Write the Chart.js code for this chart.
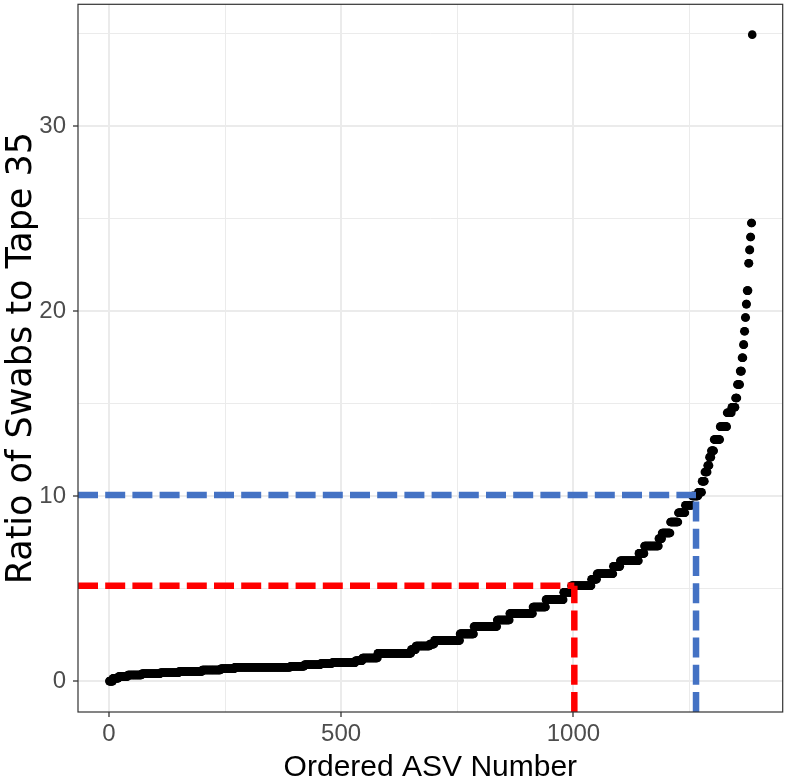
<!DOCTYPE html>
<html><head><meta charset="utf-8">
<script src="https://cdn.jsdelivr.net/npm/chart.js@4"></script>
<style>html,body{margin:0;padding:0;background:#fff}#wrap{width:787px;height:780px;position:relative}</style>
</head><body><div id="wrap"><canvas id="c" width="787" height="780"></canvas></div>
<script>
// Plateau levels of the ordered ratio curve and how many ASVs sit on each
const ratioLevels = [0, 0.15, 0.25, 0.33, 0.4, 0.45, 0.52, 0.6, 0.67, 0.75, 0.8, 0.88, 0.95, 1.0, 1.1, 1.25, 1.5, 1.7, 1.9, 2.0, 2.2, 2.55, 2.95, 3.3, 3.65, 4.0, 4.4, 4.8, 5.15, 5.5, 5.8, 6.2, 6.5, 6.9, 7.3, 7.7, 8.0, 8.6, 9.1, 9.5, 10.0, 10.2, 10.8, 11.3, 11.65, 12.1, 12.45, 13.05, 13.75, 14.5, 14.8, 15.3, 16.03, 16.75, 17.47, 18.18, 18.9, 19.65, 20.37, 21.1, 22.58, 23.3, 24.0, 24.75, 34.93];
const runCounts   = [8, 12, 20, 30, 40, 40, 50, 40, 30, 120, 30, 35, 25, 50, 15, 33, 72, 10, 30, 10, 55, 30, 50, 27, 50, 28, 38, 17, 43, 12, 35, 15, 40, 12, 31, 7, 18, 17, 15, 15, 13, 8, 6, 6, 4, 4, 6, 13, 15, 10, 8, 4, 6, 4, 3, 2, 2, 2, 2, 3, 2, 2, 2, 2, 1];

// Cut-off reference segments
const redCutX = 1002, redCutY = 5.15;
const blueCutX = 1264, blueCutY = 10.05;

// Axis ticks
const xTickValues = [0, 250, 500, 750, 1000, 1250];
const xMajorTicks = [0, 500, 1000];
const yTickValues = [0, 5, 10, 15, 20, 25, 30, 35];
const yMajorTicks = [0, 10, 20, 30];
const xRange = [-66.5, 1450.6];
const yRange = [-1.67, 36.57];

const points = [];
let idx = 1;
ratioLevels.forEach((v, k) => {
  for (let j = 0; j < runCounts[k]; j++) { points.push({x: idx, y: v}); idx++; }
});

const segStyle = (color) => ({
  showLine: true, borderColor: color, backgroundColor: color, borderWidth: 6.5,
  borderDash: [20, 7.2], borderCapStyle: 'butt', pointRadius: 0, pointHoverRadius: 0,
  fill: false, tension: 0, order: 0
});

const panelBorder = {
  id: 'panelBorder',
  afterDraw(chart) {
    const {ctx, chartArea: a} = chart;
    ctx.save();
    ctx.strokeStyle = '#333333';
    ctx.lineWidth = 1.2;
    ctx.strokeRect(a.left, a.top, a.right - a.left, a.bottom - a.top);
    ctx.restore();
  }
};

const gridOpts = (majors) => ({
  color: '#EBEBEB',
  lineWidth: (c) => majors.includes(c.tick && c.tick.value) ? 2 : 1,
  tickColor: (c) => majors.includes(c.tick && c.tick.value) ? '#333333' : 'rgba(0,0,0,0)',
  tickWidth: 1.3,
  tickLength: 5,
  drawTicks: true
});

const zeroPad = (s) => { s.paddingLeft = 0; s.paddingRight = 0; s.paddingTop = 0; s.paddingBottom = 0; };

new Chart(document.getElementById('c'), {
  type: 'scatter',
  data: {
    datasets: [
      Object.assign({data: [{x: xRange[0], y: redCutY}, {x: redCutX, y: redCutY}]}, segStyle('#FF0000')),
      Object.assign({data: [{x: redCutX, y: yRange[0]}, {x: redCutX, y: redCutY}]}, segStyle('#FF0000')),
      Object.assign({data: [{x: xRange[0], y: blueCutY}, {x: blueCutX, y: blueCutY}]}, segStyle('#4472C4')),
      Object.assign({data: [{x: blueCutX, y: yRange[0]}, {x: blueCutX, y: blueCutY}]}, segStyle('#4472C4')),
      {data: points, pointRadius: 4.3, pointHoverRadius: 4.3, pointBorderWidth: 0, borderWidth: 0,
       backgroundColor: '#000000', pointBackgroundColor: '#000000', order: 1}
    ]
  },
  options: {
    responsive: false, animation: false, devicePixelRatio: 1,
    layout: {padding: {top: 2, right: 2, left: 0, bottom: 0}},
    plugins: {legend: {display: false}, tooltip: {enabled: false}},
    scales: {
      x: {
        type: 'linear', min: xRange[0], max: xRange[1],
        afterBuildTicks: (s) => { s.ticks = xTickValues.map(v => ({value: v})); },
        afterFit: (s) => { s.height = 68; zeroPad(s); },
        grid: gridOpts(xMajorTicks),
        border: {display: false},
        ticks: {
          autoSkip: false, maxRotation: 0, padding: 3, color: '#4D4D4D',
          font: {family: "'Liberation Sans', Arial, sans-serif", size: 24},
          callback: (v) => xMajorTicks.includes(v) ? String(v) : ''
        },
        title: {display: true, text: 'Ordered ASV Number', color: '#000000',
          font: {family: "'Liberation Sans', Arial, sans-serif", size: 30, lineHeight: 1},
          padding: {top: 0, bottom: -3}}
      },
      y: {
        type: 'linear', min: yRange[0], max: yRange[1],
        afterBuildTicks: (s) => { s.ticks = yTickValues.map(v => ({value: v})); },
        afterFit: (s) => { s.width = 78; zeroPad(s); },
        grid: gridOpts(yMajorTicks),
        border: {display: false},
        ticks: {
          autoSkip: false, padding: 7, color: '#4D4D4D',
          font: {family: "'Liberation Sans', Arial, sans-serif", size: 24},
          callback: (v) => yMajorTicks.includes(v) ? String(v) : ''
        },
        title: {display: true, text: 'Ratio of Swabs to Tape 35', color: '#000000',
          font: {family: "'DejaVu Sans', 'Liberation Sans', sans-serif", size: 35, lineHeight: 1},
          padding: {top: 4, bottom: 0}}
      }
    }
  },
  plugins: [panelBorder]
});
</script>
</body></html>
